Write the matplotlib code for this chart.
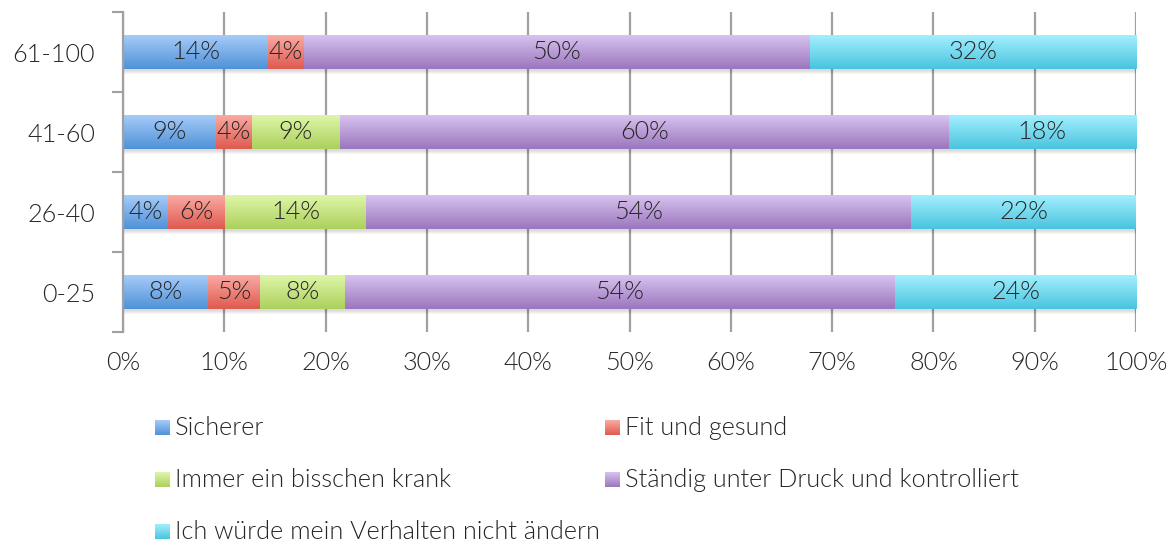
import matplotlib
matplotlib.use('Agg')
import matplotlib.pyplot as plt
import numpy as np
from matplotlib.colors import LinearSegmentedColormap

plt.rcParams['font.family'] = ['Lato', 'DejaVu Sans']

# Daten
gruppen = ['0-25', '26-40', '41-60', '61-100']
serien = ['Sicherer', 'Fit und gesund', 'Immer ein bisschen krank',
          'Ständig unter Druck und kontrolliert', 'Ich würde mein Verhalten nicht ändern']
sicherer = [8.4, 4.4, 9.2, 14.3]
fit = [5.1, 5.7, 3.5, 3.6]
krank = [8.4, 13.9, 8.7, 0.0]
druck = [54.3, 53.8, 60.1, 49.9]
nicht_aendern = [23.8, 22.2, 18.5, 32.2]
werte = [sicherer, fit, krank, druck, nicht_aendern]
xticks = [0, 10, 20, 30, 40, 50, 60, 70, 80, 90, 100]

# Farbverlauf oben hell -> unten dunkel
farben = [('#a6cbf8', '#4f92d8'),
          ('#faaaa2', '#df5a50'),
          ('#def6a8', '#add05d'),
          ('#d8c2ef', '#9b76bd'),
          ('#a2effd', '#4ac4df')]
textfarbe = '#262626'
grau = '#a0a0a0'
fs = 18.2
fw = 300

fig = plt.figure(figsize=(11.76, 5.42), dpi=100)
ax = fig.add_axes([123/1176, 1 - 332/542, (1136-123)/1176, 320/542])

y = np.arange(len(gruppen))
h = 0.42
links = np.zeros(len(gruppen))
summe = np.sum(werte, axis=0)

# Schatten
for k in range(4):
    ax.barh(y - 0.03 - k*0.012, summe, height=h, left=0, color='black',
            alpha=0.035, zorder=1.5, linewidth=0)

grad = np.linspace(0, 1, 64).reshape(-1, 1)
for i, w in enumerate(werte):
    cmap = LinearSegmentedColormap.from_list('c%d' % i, [farben[i][1], farben[i][0]])
    bars = ax.barh(y, w, height=h, left=links, color=farben[i][1], linewidth=0, zorder=2)
    for b, v in zip(bars, w):
        if v <= 0:
            continue
        x0, y0 = b.get_x(), b.get_y()
        im = ax.imshow(grad, extent=[x0, x0 + b.get_width(), y0, y0 + b.get_height()],
                       cmap=cmap, aspect='auto', origin='lower', zorder=2.1,
                       interpolation='bilinear')
        im.set_clip_path(b)
        ax.text(x0 + b.get_width()/2, y0 + b.get_height()/2, '%d%%' % round(v),
                ha='center', va='center', fontsize=fs, color=textfarbe,
                fontweight=fw, zorder=3)
    links = links + np.array(w)

ax.set_xlim(0, 100)
ax.set_ylim(-0.5, len(gruppen) - 0.5)
ax.set_xticks(xticks)
ax.set_xticklabels(['%d%%' % t for t in xticks], fontsize=fs, color=textfarbe,
                   fontweight=fw)
ax.tick_params(axis='x', length=0, pad=14)
ax.set_yticks(y)
ax.set_yticklabels(gruppen, fontsize=fs, color=textfarbe, fontweight=fw)
ax.tick_params(axis='y', which='major', length=0, pad=20)
ax.set_yticks(np.arange(-0.5, len(gruppen)), minor=True)
ax.tick_params(axis='y', which='minor', length=8, width=1.5, color=grau)
ax.grid(axis='x', color=grau, linewidth=1.6, zorder=0)
ax.set_axisbelow(True)
for s in ['top', 'right', 'bottom']:
    ax.spines[s].set_visible(False)
ax.spines['left'].set_color(grau)
ax.spines['left'].set_linewidth(1.6)

# Legende
for i, name in enumerate(serien):
    zeile, spalte = i // 2, i % 2
    px = 155 + spalte * 450
    py = 428 + zeile * 52
    fx, fy = px / 1176, 1 - py / 542
    cmap = LinearSegmentedColormap.from_list('l%d' % i, [farben[i][1], farben[i][0]])
    lax = fig.add_axes([fx, fy - 7/542, 15/1176, 15/542])
    lax.imshow(grad, cmap=cmap, aspect='auto', origin='lower')
    lax.axis('off')
    fig.text(fx + 20/1176, fy, name, ha='left', va='center', fontsize=fs,
             color=textfarbe, fontweight=fw)

fig.savefig('out.png', dpi=100)
